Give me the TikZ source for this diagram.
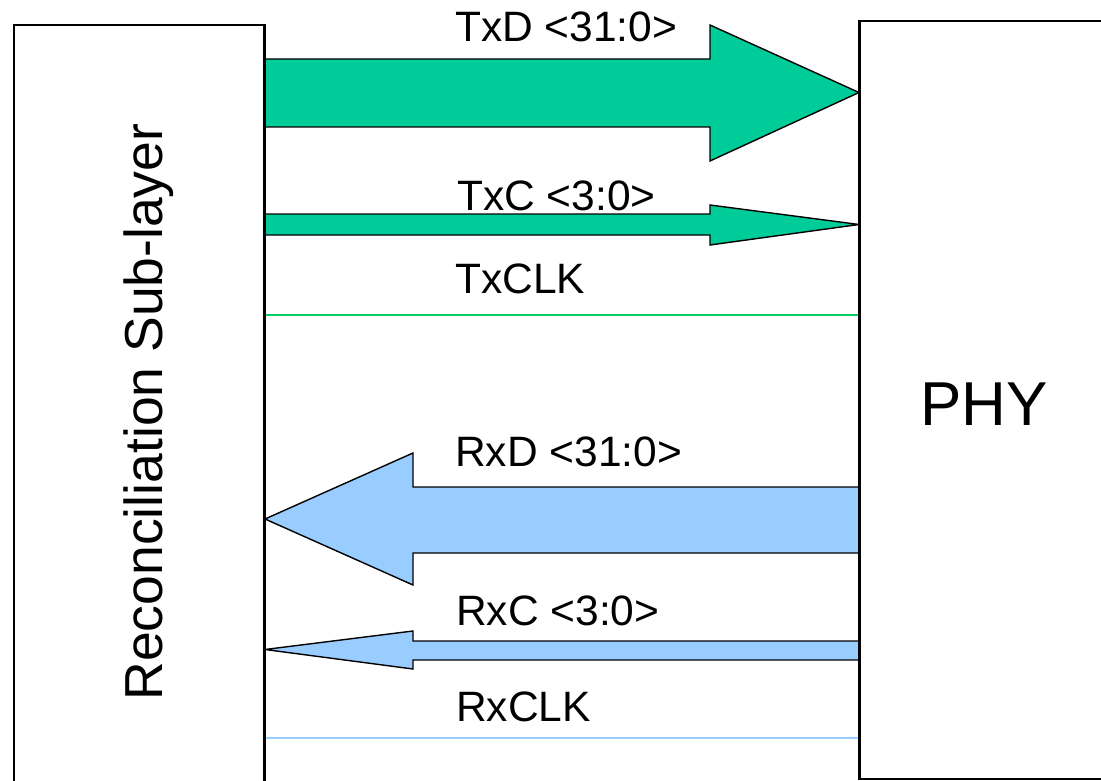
\documentclass[tikz,border=0pt]{standalone}
\usepackage{fontspec}
\setmainfont{Liberation Sans}
\usetikzlibrary{calc}
\definecolor{txfill}{HTML}{00CC99}
\definecolor{rxfill}{HTML}{99CCFF}
\definecolor{txline}{HTML}{00CC66}
\tikzset{
  layerbox/.style={draw=black, line width=2pt, fill=white, rectangle, inner sep=0pt},
  txarrow/.style={draw=black, line width=1.4pt, fill=txfill, line join=miter, miter limit=4},
  rxarrow/.style={draw=black, line width=1.4pt, fill=rxfill, line join=miter, miter limit=4},
  siglabel/.style={anchor=base west, inner sep=0pt, font=\fontsize{42.5}{50}\selectfont},
}
\begin{document}
\begin{tikzpicture}[x=1pt, y=-1pt]
  \useasboundingbox (0,0) rectangle (1101,781);
  \clip (0,0) rectangle (1101,781);

  % the two layers
  \node[layerbox, minimum width=250pt, minimum height=790pt] (rs) at (139,420) {};
  \node[layerbox, minimum width=270pt, minimum height=757.5pt] (phy) at (995,399.75) {};

  \node[rotate=90, anchor=base, inner sep=0pt, font=\fontsize{53.5}{60}\selectfont]
    (rslabel) at (162,412) {Reconciliation Sub-layer};
  \node[anchor=base, inner sep=0pt, font=\fontsize{62}{70}\selectfont]
    (phylabel) at (984,425) {PHY};

  % transmit path: TxD <31:0>
  \draw[txarrow] (rs.east |- 0,59) -- (710,59) -- (710,25) -- (phy.west |- 0,92.5)
    -- (710,161) -- (710,127) -- (rs.east |- 0,127) -- cycle;
  % transmit path: TxC <3:0>
  \draw[txarrow] (rs.east |- 0,214) -- (710,214) -- (710,205) -- (phy.west |- 0,224.5)
    -- (710,245) -- (710,235) -- (rs.east |- 0,235) -- cycle;
  % transmit clock
  \draw[txline, line width=1.2pt] (rs.east |- 0,315) -- (phy.west |- 0,315);

  % receive path: RxD <31:0>
  \draw[rxarrow] (phy.west |- 0,487) -- (413,487) -- (413,453) -- (rs.east |- 0,519)
    -- (413,585) -- (413,553) -- (phy.west |- 0,553) -- cycle;
  % receive path: RxC <3:0>
  \draw[rxarrow] (phy.west |- 0,641) -- (413,641) -- (413,631) -- (rs.east |- 0,649.5)
    -- (413,669) -- (413,660) -- (phy.west |- 0,660) -- cycle;
  % receive clock
  \draw[rxfill, line width=1.5pt] (rs.east |- 0,738) -- (phy.west |- 0,738);

  % redraw the layer edges over the arrow ends
  \draw[line width=2pt] (rs.north east) -- (rs.south east);
  \draw[line width=2pt] (phy.north west) -- (phy.south west);

  % signal names
  \node[siglabel] (txd) at (455,41.7) {TxD <31:0>};
  \node[siglabel] (txc) at (457,210.7) {TxC <3:0>};
  \node[siglabel] (txclk) at (455,293) {TxCLK};
  \node[siglabel] (rxd) at (455,466.7) {RxD <31:0>};
  \node[siglabel] (rxc) at (456,625) {RxC <3:0>};
  \node[siglabel] (rxclk) at (456,721.7) {RxCLK};
\end{tikzpicture}
\end{document}
